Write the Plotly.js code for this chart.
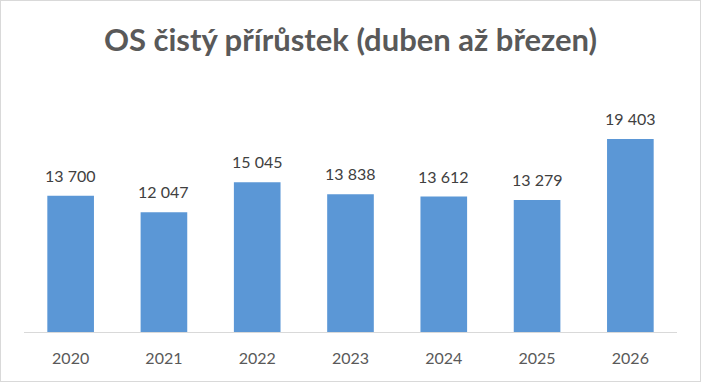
<!DOCTYPE html>
<html><head><meta charset="utf-8">
<script src="https://cdn.plot.ly/plotly-3.0.1.min.js"></script>
<style>
html,body{margin:0;padding:0;background:#fff;}
#chart{width:701px;height:382px;box-sizing:border-box;border:1px solid #d9d9d9;}
</style></head>
<body><div id="chart"></div>
<script>
const years = ['2020','2021','2022','2023','2024','2025','2026'];
const values = [13700, 12047, 15045, 13838, 13612, 13279, 19403];
const chartTitle = 'OS čistý přírůstek (duben až březen)';

function fmt(v){ return String(v).replace(/\B(?=(\d{3})+(?!\d))/g, ' '); }

const trace = {
  type: 'bar', x: years, y: values, width: 0.5,
  marker: {color: '#5b97d6', line: {width: 0}},
  hoverinfo: 'none'
};
const annotations = years.map((yr, i) => ({
  x: yr, y: values[i], xref: 'x', yref: 'y', text: fmt(values[i]),
  showarrow: false, yanchor: 'bottom', yshift: 9,
  font: {family: 'Lato, sans-serif', size: 16, color: '#404040'}
}));
const layout = {
  width: 699, height: 380,
  margin: {l: 23, r: 23, t: 99, b: 49},
  paper_bgcolor: '#ffffff', plot_bgcolor: '#ffffff',
  title: {text: chartTitle, x: 0.5, xanchor: 'center', y: 0.897, yanchor: 'middle',
    font: {family: 'Lato, sans-serif', size: 31, color: '#595959', weight: 'bold'}},
  xaxis: {showline: true, linecolor: '#d9d9d9', linewidth: 1, ticks: '', showgrid: false,
    tickfont: {family: 'Lato, sans-serif', size: 16, color: '#595959'}, ticklabelstandoff: 12,
    fixedrange: true},
  yaxis: {range: [0, 23324], visible: false, showgrid: false, zeroline: false, fixedrange: true},
  annotations: annotations,
  showlegend: false
};
Plotly.newPlot('chart', [trace], layout, {displayModeBar: false, staticPlot: true});
</script></body></html>
